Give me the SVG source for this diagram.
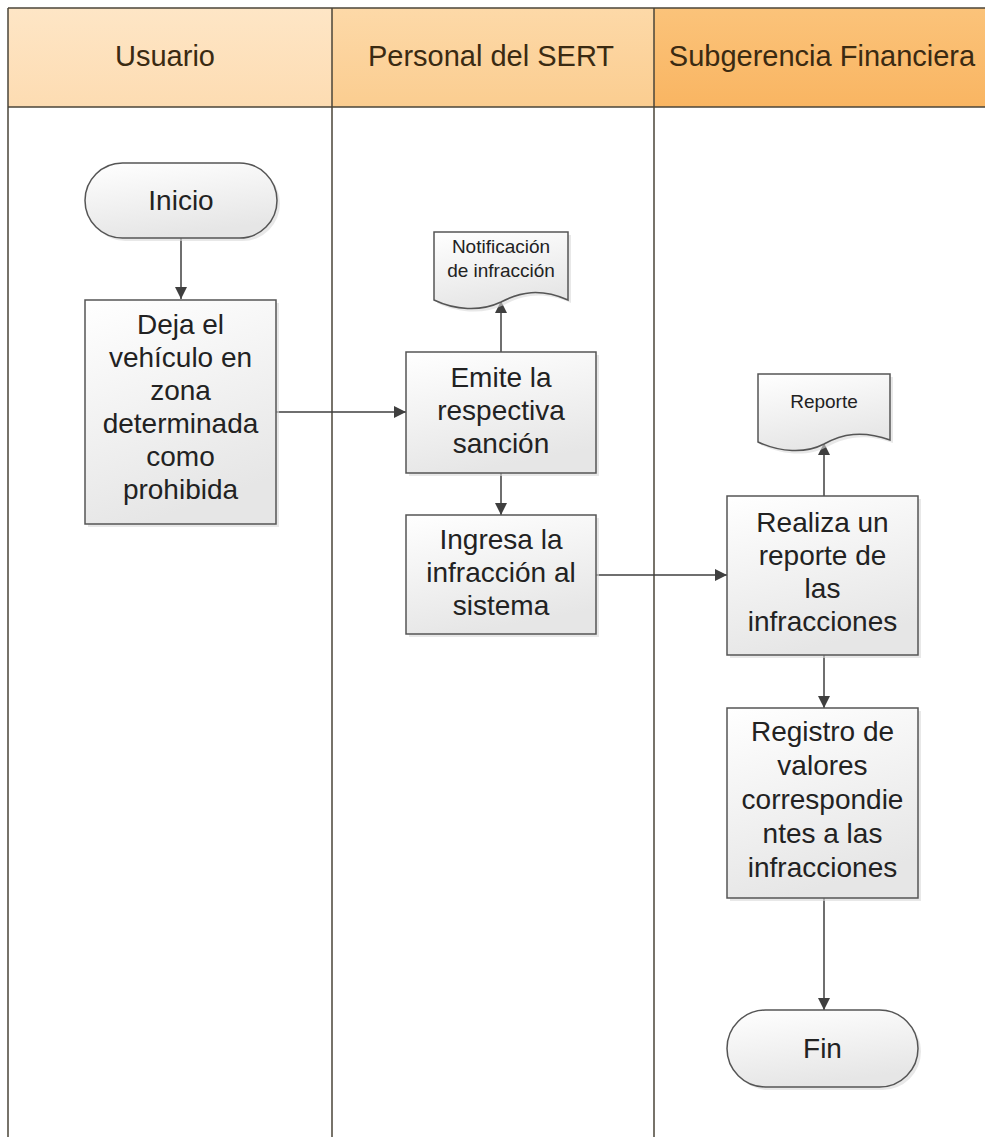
<svg xmlns="http://www.w3.org/2000/svg" width="985" height="1137" viewBox="0 0 985 1137">
  <defs>
    <linearGradient id="h1" x1="0" y1="0" x2="0" y2="1">
      <stop offset="0" stop-color="#fee6c6"/>
      <stop offset="1" stop-color="#fddcb2"/>
    </linearGradient>
    <linearGradient id="h2" x1="0" y1="0" x2="0" y2="1">
      <stop offset="0" stop-color="#fdd9a8"/>
      <stop offset="1" stop-color="#fbcd90"/>
    </linearGradient>
    <linearGradient id="h3" x1="0" y1="0" x2="0" y2="1">
      <stop offset="0" stop-color="#fbc37a"/>
      <stop offset="1" stop-color="#f9b562"/>
    </linearGradient>
    <linearGradient id="box" x1="0" y1="0" x2="0.3" y2="1">
      <stop offset="0" stop-color="#ffffff"/>
      <stop offset="1" stop-color="#e6e6e6"/>
    </linearGradient>
    <marker id="arr" viewBox="0 0 10 10" refX="10" refY="5" markerWidth="12" markerHeight="13" markerUnits="userSpaceOnUse" orient="auto">
      <path d="M0,0 L10,5 L0,10 Z" fill="#3f3f3f"/>
    </marker>
  </defs>
  <style>
    .lane { stroke: #4a4438; stroke-width: 1.5; fill: none; }
    .hdr { font-family: "Liberation Sans", Arial, sans-serif; font-size: 29px; fill: #3a2a12; text-anchor: middle; }
    .shape { fill: url(#box); stroke: #555555; stroke-width: 1.5; }
    .shadow { fill: #d8d8d8; opacity: 0.6; }
    .txt { font-family: "Liberation Sans", Arial, sans-serif; font-size: 28px; fill: #222222; text-anchor: middle; }
    .small { font-family: "Liberation Sans", Arial, sans-serif; font-size: 19px; fill: #222222; text-anchor: middle; }
    .conn { stroke: #3f3f3f; stroke-width: 1.5; fill: none; marker-end: url(#arr); }
  </style>

  <rect x="0" y="0" width="985" height="1137" fill="#ffffff"/>

  <g id="lanes">
    <rect x="8" y="8" width="324" height="99" fill="url(#h1)"/>
    <rect x="332" y="8" width="322" height="99" fill="url(#h2)"/>
    <rect x="654" y="8" width="331" height="99" fill="url(#h3)"/>
    <line class="lane" x1="8" y1="8" x2="985" y2="8"/>
    <line class="lane" x1="8" y1="107" x2="985" y2="107"/>
    <line class="lane" x1="8" y1="8" x2="8" y2="1137"/>
    <line class="lane" x1="332" y1="8" x2="332" y2="1137"/>
    <line class="lane" x1="654" y1="8" x2="654" y2="1137"/>
    <text class="hdr" x="165" y="66">Usuario</text>
    <text class="hdr" x="491" y="66">Personal del SERT</text>
    <text class="hdr" x="822" y="66">Subgerencia Financiera</text>
  </g>

  <g id="connectors">
    <line class="conn" x1="181" y1="238" x2="181" y2="299"/>
    <line class="conn" x1="276" y1="412" x2="406" y2="412"/>
    <line class="conn" x1="501" y1="352" x2="501" y2="301"/>
    <line class="conn" x1="501" y1="473" x2="501" y2="515"/>
    <line class="conn" x1="596" y1="575" x2="727" y2="575"/>
    <line class="conn" x1="824" y1="496" x2="824" y2="443"/>
    <line class="conn" x1="824" y1="655" x2="824" y2="708"/>
    <line class="conn" x1="824" y1="898" x2="824" y2="1010"/>
  </g>

  <g id="inicio">
    <rect class="shadow" x="88" y="166" width="192" height="75" rx="37.5"/>
    <rect class="shape" x="85" y="163" width="192" height="75" rx="37.5"/>
    <text class="txt" x="181" y="210">Inicio</text>
  </g>

  <g id="deja">
    <rect class="shadow" x="88" y="303" width="191" height="224"/>
    <rect class="shape" x="85" y="300" width="191" height="224"/>
    <text class="txt" x="180.5" y="334">Deja el</text>
    <text class="txt" x="180.5" y="367">vehículo en</text>
    <text class="txt" x="180.5" y="400">zona</text>
    <text class="txt" x="180.5" y="433">determinada</text>
    <text class="txt" x="180.5" y="466">como</text>
    <text class="txt" x="180.5" y="499">prohibida</text>
  </g>

  <g id="notificacion">
    <path class="shadow" d="M437 235 H571 V303 C543 291, 523 295, 504 305 C483 315, 458 313, 437 303 Z"/>
    <path class="shape" d="M434 232 H568 V300 C540 288, 520 292, 501 302 C480 312, 455 310, 434 300 Z"/>
    <text class="small" x="501" y="253">Notificación</text>
    <text class="small" x="501" y="277">de infracción</text>
  </g>

  <g id="emite">
    <rect class="shadow" x="409" y="355" width="190" height="121"/>
    <rect class="shape" x="406" y="352" width="190" height="121"/>
    <text class="txt" x="501" y="387">Emite la</text>
    <text class="txt" x="501" y="420">respectiva</text>
    <text class="txt" x="501" y="453">sanción</text>
  </g>

  <g id="ingresa">
    <rect class="shadow" x="409" y="518" width="190" height="119"/>
    <rect class="shape" x="406" y="515" width="190" height="119"/>
    <text class="txt" x="501" y="549">Ingresa la</text>
    <text class="txt" x="501" y="582">infracción al</text>
    <text class="txt" x="501" y="615">sistema</text>
  </g>

  <g id="reporte">
    <path class="shadow" d="M761 377 H893 V443 C865 433, 845 437, 827 447 C808 457, 783 455, 761 445 Z"/>
    <path class="shape" d="M758 374 H890 V440 C862 430, 842 434, 824 444 C805 454, 780 452, 758 442 Z"/>
    <text class="small" x="824" y="408">Reporte</text>
  </g>

  <g id="realiza">
    <rect class="shadow" x="730" y="499" width="191" height="159"/>
    <rect class="shape" x="727" y="496" width="191" height="159"/>
    <text class="txt" x="822.5" y="532">Realiza un</text>
    <text class="txt" x="822.5" y="565">reporte de</text>
    <text class="txt" x="822.5" y="598">las</text>
    <text class="txt" x="822.5" y="631">infracciones</text>
  </g>

  <g id="registro">
    <rect class="shadow" x="730" y="711" width="191" height="190"/>
    <rect class="shape" x="727" y="708" width="191" height="190"/>
    <text class="txt" x="822.5" y="741">Registro de</text>
    <text class="txt" x="822.5" y="775">valores</text>
    <text class="txt" x="822.5" y="809">correspondie</text>
    <text class="txt" x="822.5" y="843">ntes a las</text>
    <text class="txt" x="822.5" y="877">infracciones</text>
  </g>

  <g id="fin">
    <rect class="shadow" x="730" y="1013" width="191" height="77" rx="38.5"/>
    <rect class="shape" x="727" y="1010" width="191" height="77" rx="38.5"/>
    <text class="txt" x="822.5" y="1058">Fin</text>
  </g>
</svg>
